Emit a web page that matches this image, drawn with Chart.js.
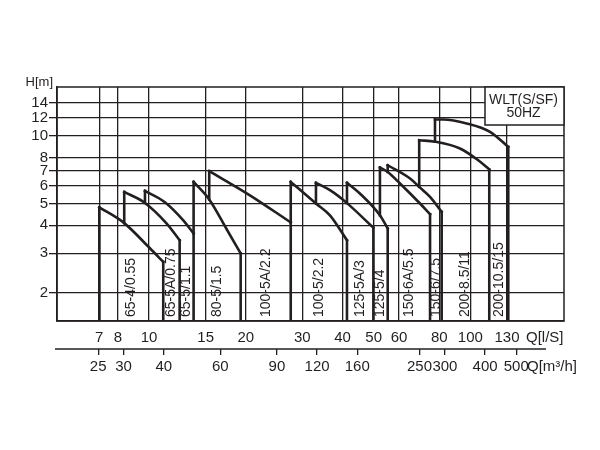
<!DOCTYPE html>
<html>
<head>
<meta charset="utf-8">
<script src="https://cdn.jsdelivr.net/npm/chart.js@4.4.1/dist/chart.umd.min.js"></script>
<style>
  html, body { margin: 0; padding: 0; background: #fff; }
  #wrap { width: 600px; height: 450px; }
</style>
</head>
<body>
<div id="wrap"><canvas id="canvas" width="600" height="450"></canvas></div>
<script>
// pump models, one curve each (Q in l/s, H in m)
// first point = foot of the rising edge, last point = drop to the bottom
const models = ['65-4/0.55', '65-5A/0.75', '65-5/1.1', '80-5/1.5', '100-5A/2.2', '100-5/2.2',
  '125-5A/3', '125-5/4', '150-6A/5.5', '150-6/7.5', '200-8.5/11', '200-10.5/15'];

const flowLs = [
  [7.0, 7.0, 8.37, 10.06, 11.07, 11.07],
  [8.37, 8.37, 9.71, 11.35, 12.45, 12.45],
  [9.71, 9.71, 11.2, 12.78, 13.76, 13.76],
  [13.76, 13.76, 15.39, 17.44, 19.28, 19.28],
  [15.39, 15.39, 20.6, 27.6, 27.6],
  [27.6, 27.6, 33.07, 36.56, 41.3, 41.3],
  [33.07, 33.07, 36.56, 41.3, 49.9, 49.9],
  [41.3, 41.3, 45.3, 52.3, 55.3, 55.3],
  [52.3, 52.3, 55.3, 60.4, 69.7, 74.9, 74.9],
  [55.3, 55.3, 64.9, 69.3, 74.9, 81.4, 81.4],
  [69.3, 69.3, 77.6, 92.8, 105.8, 114.5, 114.5],
  [77.6, 77.6, 82.3, 97.4, 115.1, 131.2, 131.2]
];
const headM = [
  [1.5, 4.81, 4.09, 3.16, 2.75, 1.5],
  [4.09, 5.63, 5.03, 4.07, 3.43, 1.5],
  [5.03, 5.69, 5.07, 4.21, 3.68, 1.5],
  [3.68, 6.24, 5.21, 3.84, 3.0, 1.5],
  [5.21, 6.97, 5.44, 4.12, 1.5],
  [4.12, 6.24, 5.0, 4.43, 3.43, 1.5],
  [5.0, 6.18, 5.73, 5.02, 3.9, 1.5],
  [5.02, 6.18, 5.54, 4.43, 3.87, 1.5],
  [4.43, 7.23, 6.91, 6.14, 5.0, 4.48, 1.5],
  [6.91, 7.40, 6.46, 5.93, 5.35, 4.59, 1.5],
  [5.93, 9.56, 9.42, 8.79, 7.79, 7.09, 1.5],
  [9.42, 11.83, 11.83, 11.36, 10.42, 8.93, 1.5]
];

const flowTicks = [7, 8, 10, 15, 20, 30, 40, 50, 60, 80, 100, 130];
const flowM3hTicks = [25, 30, 40, 60, 90, 120, 160, 250, 300, 400, 500];
const headTicks = [2, 3, 4, 5, 6, 7, 8, 10, 12, 14];
const flowRange = [5.17, 195.6];
const headRange = [1.5, 16.5];
const boxTitle = ['WLT(S/SF)', '50HZ'];

const ink = '#231f20';
const font = '"Liberation Sans", Arial, sans-serif';

function lineSet(points, smooth) {
  return {
    data: points,
    showLine: true,
    borderColor: ink,
    borderWidth: 2.6,
    borderCapStyle: 'square',
    pointRadius: 0,
    cubicInterpolationMode: smooth ? 'monotone' : 'default',
    tension: smooth ? 0.4 : 0
  };
}

const datasets = [];
models.forEach((m, i) => {
  const pts = flowLs[i].map((q, j) => ({ x: q, y: headM[i][j] }));
  const n = pts.length;
  datasets.push(lineSet(pts.slice(0, 2), false));       // rising edge
  datasets.push(lineSet(pts.slice(1, n - 1), true));    // H-Q curve
  datasets.push(lineSet(pts.slice(n - 2), false));      // drop
});

const overlay = {
  id: 'overlay',
  afterDatasetsDraw(chart) {
    const { ctx, chartArea: a, scales: { x, x2 } } = chart;
    ctx.save();
    ctx.fillStyle = ink;
    ctx.strokeStyle = ink;

    // model labels, rotated
    ctx.font = '14px ' + font;
    ctx.textAlign = 'left';
    ctx.textBaseline = 'middle';
    models.forEach((m, i) => {
      const q = flowLs[i];
      const end = q[q.length - 1];
      const prev = i === 0 ? q[0] : flowLs[i - 1][flowLs[i - 1].length - 1];
      const px = (x.getPixelForValue(end) + x.getPixelForValue(prev)) / 2;
      ctx.save();
      ctx.translate(px, a.bottom - 4);
      ctx.rotate(-Math.PI / 2);
      ctx.fillText(m, 0, 0);
      ctx.restore();
    });

    // frame
    ctx.lineWidth = 1.5;
    ctx.strokeRect(a.left, a.top, a.right - a.left, a.bottom - a.top);

    // title box
    const bw = 79, bh = 38;
    ctx.fillStyle = '#fff';
    ctx.fillRect(a.right - bw, a.top, bw, bh);
    ctx.strokeRect(a.right - bw, a.top, bw, bh);
    ctx.fillStyle = ink;
    ctx.font = '14px ' + font;
    ctx.textAlign = 'center';
    ctx.fillText(boxTitle[0], a.right - bw / 2 - 1, a.top + 13);
    ctx.fillText(boxTitle[1], a.right - bw / 2 - 1, a.top + 26);

    // axis names
    ctx.font = '13px ' + font;
    ctx.textAlign = 'right';
    ctx.fillText('H[m]', a.left - 4, a.top - 5);
    ctx.font = '15px ' + font;
    ctx.textAlign = 'left';
    const lastX = x.getPixelForValue(flowTicks[flowTicks.length - 1]);
    ctx.fillText('Q[l/S]', lastX + 19, x.top + 17);
    ctx.fillText('Q[m³/h]', lastX + 20, x2.top + 18);

    // second flow axis line
    ctx.lineWidth = 1.3;
    ctx.beginPath();
    ctx.moveTo(a.left - 2, x2.top);
    ctx.lineTo(a.right - 18, x2.top);
    ctx.stroke();
    ctx.restore();
  }
};

new Chart(document.getElementById('canvas').getContext('2d'), {
  type: 'scatter',
  data: { datasets },
  options: {
    responsive: false,
    animation: false,
    layout: { padding: { top: 87, right: 36, bottom: 71, left: 0 } },
    plugins: { legend: { display: false }, tooltip: { enabled: false } },
    scales: {
      x: {
        type: 'logarithmic',
        min: flowRange[0], max: flowRange[1],
        position: 'bottom',
        afterBuildTicks: s => { s.ticks = flowTicks.map(v => ({ value: v })); },
        afterFit: s => { s.height = 28; },
        grid: { color: ink, lineWidth: 1.3, drawTicks: false },
        border: { color: ink, width: 1.5 },
        ticks: { color: ink, font: { family: font, size: 15 }, padding: 8, autoSkip: false, maxRotation: 0, callback: v => String(v) }
      },
      x2: {
        type: 'logarithmic',
        min: flowRange[0] * 3.6, max: flowRange[1] * 3.6,
        position: 'bottom',
        weight: 1,
        afterBuildTicks: s => { s.ticks = flowM3hTicks.map(v => ({ value: v })); },
        afterFit: s => { s.height = 30; },
        grid: { color: ink, lineWidth: 1.3, drawOnChartArea: false, drawTicks: true, tickLength: 6 },
        border: { display: false },
        ticks: { color: ink, font: { family: font, size: 15 }, padding: 3, autoSkip: false, maxRotation: 0, callback: v => String(v) }
      },
      y: {
        type: 'logarithmic',
        min: headRange[0], max: headRange[1],
        afterBuildTicks: s => { s.ticks = headTicks.map(v => ({ value: v })); },
        afterFit: s => { s.width = 57; },
        grid: { color: ink, lineWidth: 1.3, tickLength: 8 },
        border: { color: ink, width: 1.5 },
        ticks: { color: ink, font: { family: font, size: 15 }, padding: 1, autoSkip: false, callback: v => String(v) }
      }
    }
  },
  plugins: [overlay]
});
</script>
</body>
</html>
